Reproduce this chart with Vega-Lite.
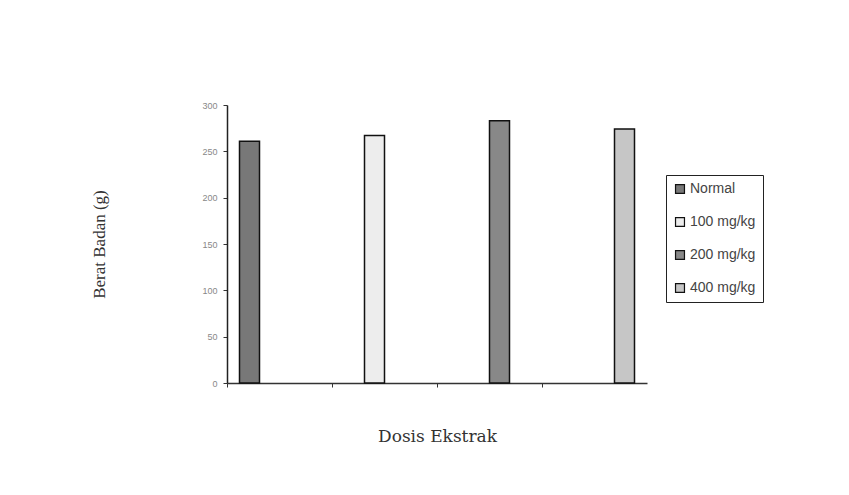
{
  "$schema": "https://vega.github.io/schema/vega-lite/v6.json",
  "width": 420,
  "height": 278,
  "autosize": {"type": "none"},
  "padding": {"left": 227, "top": 105, "right": 202, "bottom": 112},
  "background": "white",
  "config": {"view": {"stroke": null}},
  "data": {
    "values": [
      {"grup": "1", "dosis": "Normal", "berat": 261},
      {"grup": "2", "dosis": "100 mg/kg", "berat": 267},
      {"grup": "3", "dosis": "200 mg/kg", "berat": 283},
      {"grup": "4", "dosis": "400 mg/kg", "berat": 274}
    ]
  },
  "mark": {"type": "bar", "stroke": "#111", "strokeWidth": 1.5},
  "encoding": {
    "x": {
      "field": "grup",
      "type": "nominal",
      "scale": {"paddingInner": 0, "paddingOuter": 0},
      "axis": {
        "title": "Dosis Ekstrak",
        "titleFont": "DejaVu Serif",
        "titleFontSize": 17,
        "titleFontWeight": "normal",
        "titleColor": "#333",
        "titlePadding": 41,
        "labels": false,
        "bandPosition": 0,
        "tickSize": 4,
        "tickColor": "#333",
        "domainColor": "#333",
        "domainWidth": 1.5
      }
    },
    "xOffset": {
      "field": "dosis",
      "type": "nominal",
      "sort": ["Normal", "100 mg/kg", "200 mg/kg", "400 mg/kg"],
      "scale": {"paddingInner": 0, "paddingOuter": 0.625}
    },
    "y": {
      "field": "berat",
      "type": "quantitative",
      "scale": {"domain": [0, 300], "nice": false},
      "axis": {
        "title": "Berat Badan (g)",
        "titleFont": "Liberation Serif",
        "titleFontSize": 17,
        "titleFontWeight": "normal",
        "titleColor": "#333",
        "titlePadding": 93,
        "values": [0, 50, 100, 150, 200, 250, 300],
        "grid": false,
        "tickSize": 4,
        "tickColor": "#333",
        "domainColor": "#222",
        "domainWidth": 1.5,
        "labelFont": "Liberation Sans",
        "labelFontSize": 9,
        "labelColor": "#888",
        "labelPadding": 6
      }
    },
    "fill": {
      "field": "dosis",
      "type": "nominal",
      "sort": ["Normal", "100 mg/kg", "200 mg/kg", "400 mg/kg"],
      "scale": {"range": ["#787878", "#ededed", "#888888", "#c6c6c6"]},
      "legend": {
        "title": null,
        "orient": "none",
        "legendX": 439,
        "legendY": 70,
        "strokeColor": "#222",
        "padding": 7,
        "symbolType": "square",
        "symbolSize": 80,
        "symbolStrokeColor": "#111",
        "symbolStrokeWidth": 1.2,
        "labelFont": "Liberation Sans",
        "labelFontSize": 14,
        "labelColor": "#444",
        "labelOffset": 3,
        "rowPadding": 19
      }
    }
  }
}
